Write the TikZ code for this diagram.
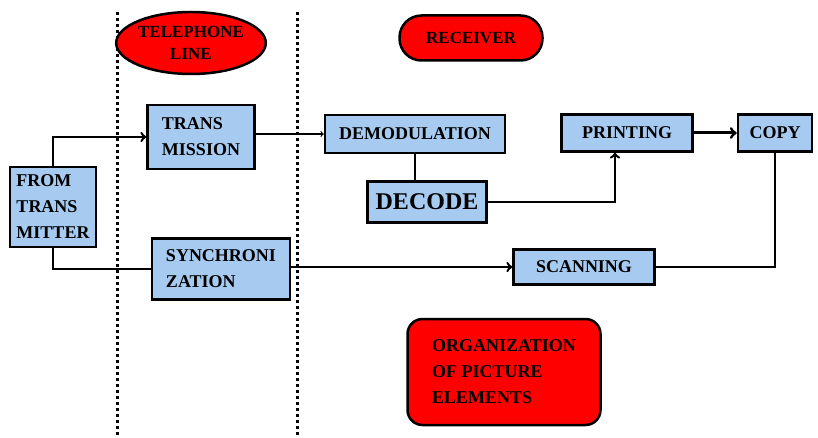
\documentclass[tikz,border=0pt]{standalone}
\usepackage{fontspec}
\setmainfont{Liberation Serif}
\usepackage{tikz}
\usetikzlibrary{calc, arrows, shapes.geometric}
\definecolor{skyblue}{HTML}{A6CAF0}

\begin{document}
\begin{tikzpicture}[x=1pt,y=-1pt,inner sep=0pt,>=to,
  blk/.style={draw,line width=2.5pt,fill=skyblue,align=left,font=\bfseries\fontsize{18}{26}\selectfont},
  redbox/.style={draw,line width=2.5pt,fill=red,align=center,font=\bfseries\fontsize{17}{20}\selectfont},
  divider/.style={line width=3pt,dash pattern=on 3pt off 3pt}]
\useasboundingbox (0,0) rectangle (818,438);
\draw [divider] (117,12) -- (117,438);
\draw [divider] (297,12) -- (297,438);
\draw node [redbox,ellipse,minimum width=131,minimum height=62] at (191,43) (TEL) {TELEPHONE\\[2pt]LINE};
\draw node [redbox,rounded corners=22pt,minimum width=143,minimum height=45] at (471,38) (REC) {RECEIVER};
\draw node [blk,minimum width=86,minimum height=80] at (53,207) (FROM) {FROM\\TRANS\\MITTER};
\draw node [blk,minimum width=107,minimum height=64] at (201,137) (TRANS) {TRANS\\MISSION};
\draw node [blk,minimum width=180,minimum height=38] at (415,134) (DEMOD) {DEMODULATION};
\draw node [blk,minimum width=119,minimum height=41,font=\bfseries\fontsize{24}{28}\selectfont] at (427,202) (DECODE) {DECODE};
\draw node [blk,minimum width=131,minimum height=37] at (627,133) (PRINT) {PRINTING};
\draw node [blk,minimum width=74,minimum height=37] at (775,133) (COPY) {COPY};
\draw node [blk,minimum width=138,minimum height=61] at (221,269) (SYNC) {SYNCHRONI\\ZATION};
\draw node [blk,minimum width=141,minimum height=35] at (584,267) (SCAN) {SCANNING};
\draw node [redbox,align=left,rounded corners=15pt,minimum width=193,minimum height=106,font=\bfseries\fontsize{18}{26}\selectfont] at (504,372) (ORG) {ORGANIZATION\\OF PICTURE\\ELEMENTS};
\draw [->,line width=2.5pt] (FROM.north) |- (TRANS.west);
\draw [->,line width=1.2pt] (TRANS.east |- DEMOD.west) -- (DEMOD.west);
\draw [line width=2.5pt] (DEMOD.south) -- (DEMOD.south |- DECODE.north);
\draw [->,line width=2.5pt] (DECODE.east) -| ($ (PRINT.south) + (-12,0) $);
\draw [->,line width=3pt] (PRINT.east) -- (COPY.west);
\draw [line width=1.8pt] (COPY.south) |- (SCAN.east);
\draw [line width=1.8pt] (FROM.south) |- (SYNC.west);
\draw [->,line width=2.5pt] (SYNC.east |- SCAN.west) -- (SCAN.west);
\end{tikzpicture}
\end{document}
